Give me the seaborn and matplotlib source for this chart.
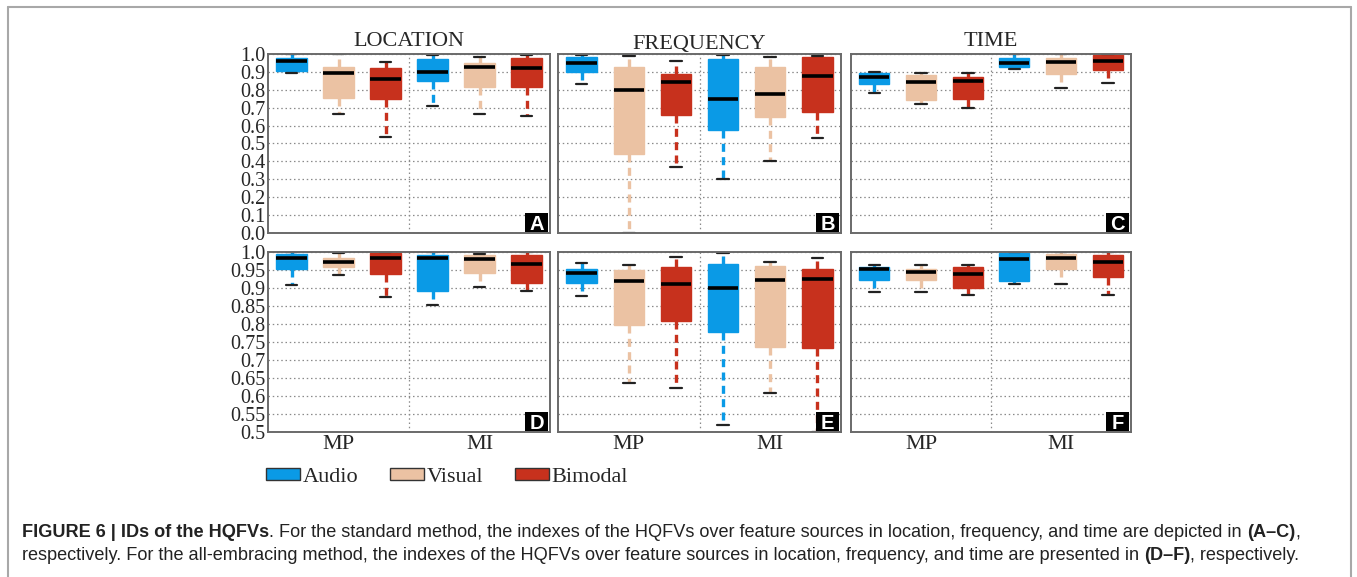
import numpy as np
import pandas as pd
import seaborn as sns
import matplotlib
matplotlib.use("Agg")
import matplotlib.pyplot as plt
from matplotlib.patches import Patch, Rectangle
from matplotlib.lines import Line2D

# ---------------- data ----------------
sources = ["Audio", "Visual", "Bimodal"]
methods = ["MP", "MI"]
titles = ["LOCATION", "FREQUENCY", "TIME"]
panel_letters = ["A", "B", "C", "D", "E", "F"]

# Box order per panel: MP-Audio, MP-Visual, MP-Bimodal, MI-Audio, MI-Visual, MI-Bimodal
# each box: [lower whisker, Q1, median, Q3, upper whisker]
panel_A = [[0.892, 0.907, 0.961, 0.976, 0.998],
           [0.667, 0.756, 0.894, 0.929, 0.998],
           [0.535, 0.747, 0.859, 0.922, 0.957],
           [0.710, 0.849, 0.901, 0.970, 0.996],
           [0.667, 0.818, 0.929, 0.948, 0.983],
           [0.654, 0.818, 0.924, 0.980, 0.996]]
panel_B = [[0.835, 0.900, 0.950, 0.981, 0.996],
           [0.002, 0.444, 0.797, 0.926, 0.987],
           [0.368, 0.658, 0.842, 0.888, 0.959],
           [0.299, 0.574, 0.749, 0.972, 0.996],
           [0.405, 0.649, 0.777, 0.926, 0.981],
           [0.530, 0.677, 0.879, 0.981, 0.991]]
panel_C = [[0.781, 0.831, 0.874, 0.896, 0.901],
           [0.721, 0.742, 0.842, 0.883, 0.894],
           [0.701, 0.751, 0.851, 0.874, 0.894],
           [0.916, 0.926, 0.948, 0.980, 0.998],
           [0.809, 0.887, 0.954, 0.980, 0.998],
           [0.836, 0.913, 0.959, 0.996, 0.999]]
panel_D = [[0.907, 0.953, 0.983, 0.995, 0.999],
           [0.937, 0.957, 0.972, 0.984, 0.997],
           [0.874, 0.939, 0.983, 0.997, 0.999],
           [0.853, 0.892, 0.983, 0.991, 0.999],
           [0.902, 0.941, 0.980, 0.992, 0.995],
           [0.891, 0.915, 0.967, 0.991, 0.999]]
panel_E = [[0.878, 0.915, 0.941, 0.954, 0.969],
           [0.635, 0.796, 0.920, 0.951, 0.964],
           [0.623, 0.809, 0.911, 0.958, 0.986],
           [0.519, 0.777, 0.899, 0.966, 0.997],
           [0.608, 0.736, 0.922, 0.960, 0.973],
           [0.500, 0.734, 0.924, 0.953, 0.983]]
panel_F = [[0.888, 0.922, 0.953, 0.957, 0.963],
           [0.888, 0.922, 0.944, 0.954, 0.964],
           [0.880, 0.900, 0.940, 0.958, 0.963],
           [0.911, 0.920, 0.980, 0.997, 0.999],
           [0.911, 0.954, 0.983, 0.994, 0.999],
           [0.880, 0.930, 0.972, 0.992, 0.999]]
panels = [panel_A, panel_B, panel_C, panel_D, panel_E, panel_F]

top_yticks = [round(0.1 * i, 2) for i in range(11)]
top_ylabels = ["0.0", "0.1", "0.2", "0.3", "0.4", "0.5", "0.6", "0.7", "0.8", "0.9", "1.0"]
bot_yticks = [round(0.5 + 0.05 * i, 2) for i in range(11)]
bot_ylabels = ["0.5", "0.55", "0.6", "0.65", "0.7", "0.75", "0.8", "0.85", "0.9", "0.95", "1.0"]

palette = {"Audio": "#0a9ae6", "Visual": "#ebc2a3", "Bimodal": "#c7311d"}

# ---------------- style ----------------
sns.set_style("white")
plt.rcParams["font.family"] = ["Liberation Serif", "DejaVu Serif"]

W, H = 1357, 577
fig = plt.figure(figsize=(W / 100, H / 100), dpi=100)

lefts = [268, 558, 851]
rights = [550, 841, 1131]
tops = [54, 252]
bottoms = [233, 432]

order = [f"{m} {s}" for m in methods for s in sources]

for idx, stats in enumerate(panels):
    r, c = divmod(idx, 3)
    aw = rights[c] - lefts[c]
    ah = bottoms[r] - tops[r]
    ax = fig.add_axes([lefts[c] / W, 1 - bottoms[r] / H, aw / W, ah / H])
    rows = []
    for k, five in enumerate(stats):
        m = methods[k // 3]
        s = sources[k % 3]
        for v in five:
            rows.append({"cat": f"{m} {s}", "source": s, "value": v})
    df = pd.DataFrame(rows)
    sns.boxplot(data=df, x="cat", y="value", hue="source", order=order,
                hue_order=sources, palette=palette, dodge=False, width=0.64,
                whis=(0, 100), showfliers=False, saturation=1, legend=False,
                capwidths=0.25, ax=ax)
    for cont in ax.containers:
        if not hasattr(cont, "boxes"):
            continue
        for i, b in enumerate(cont.boxes):
            fc = b.get_facecolor()
            b.set_edgecolor(fc)
            b.set_linewidth(1)
            for w in cont.whiskers[2 * i:2 * i + 2]:
                w.set_color(fc)
                w.set_linestyle((0, (2.4, 1.6)))
                w.set_linewidth(2.4)
            for cp in cont.caps[2 * i:2 * i + 2]:
                cp.set_color("#222222")
                cp.set_linewidth(1.6)
                cp.set_linestyle("-")
        for md in cont.medians:
            md.set_color("black")
            md.set_linewidth(2.6)
            md.set_zorder(5)

    ax.set_xlim(-0.5, 5.5)
    if r == 0:
        ax.set_ylim(0, 1.0)
        ax.set_yticks(top_yticks)
        ax.set_yticklabels(top_ylabels if c == 0 else [])
        ax.set_title(titles[c], fontsize=16, pad=6 if c != 1 else 3)
        ax.set_xticks([])
    else:
        ax.set_ylim(0.5, 1.0)
        ax.set_yticks(bot_yticks)
        ax.set_yticklabels(bot_ylabels if c == 0 else [])
        ax.set_xticks([1, 4])
        ax.set_xticklabels(methods, fontsize=16)
    ax.set_xlabel("")
    ax.set_ylabel("")
    ax.tick_params(axis="y", length=0, pad=2, labelsize=14.5)
    ax.tick_params(axis="x", length=0, pad=2)
    ax.yaxis.grid(True, linestyle=(0, (1.2, 2.2)), color="#8a8a8a", linewidth=0.9)
    ax.xaxis.grid(False)
    ax.set_axisbelow(True)
    ax.axvline(2.5, color="#8a8a8a", linestyle=(0, (1.2, 2.2)), linewidth=0.9, zorder=0)
    for sp in ax.spines.values():
        sp.set_visible(True)
        sp.set_color("#6a6a6a")
        sp.set_linewidth(1.4)
    # panel letter badge (bottom-right)
    bw, bh = 23 / aw, 19 / ah
    x0, y0 = 1 - 2 / aw - bw, 1 / ah
    ax.add_patch(Rectangle((x0, y0), bw, bh, transform=ax.transAxes,
                           facecolor="black", edgecolor="none", zorder=9, clip_on=False))
    ax.text(x0 + bw / 2, y0 + bh / 2, panel_letters[idx], transform=ax.transAxes,
            ha="center", va="center_baseline", color="white", fontsize=14.5,
            fontweight="bold", family="Liberation Sans", zorder=10)

# ---------------- legend ----------------
handles = [Patch(facecolor=palette[s], edgecolor="#333333", linewidth=1.0, label=s)
           for s in sources]
fig.legend(handles=handles, loc="center left", bbox_to_anchor=(266 / W, 1 - 477 / H),
           ncol=3, frameon=False, handlelength=1.55, handleheight=0.45,
           handletextpad=0.12, columnspacing=1.4, borderpad=0, borderaxespad=0,
           prop={"family": "Liberation Serif", "size": 16})

# ---------------- frame ----------------
fc_ = "#a8a8a8"
fig.add_artist(Line2D([8 / W, 8 / W], [0, 1 - 7 / H], transform=fig.transFigure, color=fc_, lw=1.5))
fig.add_artist(Line2D([8 / W, 1351 / W], [1 - 7 / H, 1 - 7 / H], transform=fig.transFigure, color=fc_, lw=1.5))
fig.add_artist(Line2D([1351 / W, 1351 / W], [0, 1 - 7 / H], transform=fig.transFigure, color=fc_, lw=1.5))

# ---------------- caption ----------------
line1 = [("FIGURE 6 | IDs of the HQFVs", "bold", False),
         (". For the standard method, the indexes of the HQFVs over feature sources in location, frequency, and time are depicted in", "normal", False),
         ("(A\u2013C)", "bold", True),
         (",", "normal", False)]
line2 = [("respectively. For the all-embracing method, the indexes of the HQFVs over feature sources in location, frequency, and time are presented in", "normal", False),
         ("(D\u2013F)", "bold", True),
         (", respectively.", "normal", False)]

renderer = fig.canvas.get_renderer()


def measure(parts, size):
    total = 0
    for txt, wt, sp in parts:
        t = fig.text(0, 0, txt, fontsize=size, fontweight=wt, family="Liberation Sans")
        bb = t.get_window_extent(renderer)
        total += bb.width + (size * 100 / 72 * 0.278 if sp else 0)
        t.remove()
    return total


base = 12.0
w1 = measure(line1, base)
size = base * (1305 - 22) / w1


def draw_line(parts, y_px):
    x = 22
    for txt, wt, sp in parts:
        if sp:
            x += size * 100 / 72 * 0.278
        t = fig.text(x / W, 1 - y_px / H, txt, fontsize=size, fontweight=wt,
                     family="Liberation Sans", color="#222222", va="baseline")
        bb = t.get_window_extent(renderer)
        x = bb.x1


draw_line(line1, 537)
draw_line(line2, 560)

fig.savefig("out.png", dpi=100)
